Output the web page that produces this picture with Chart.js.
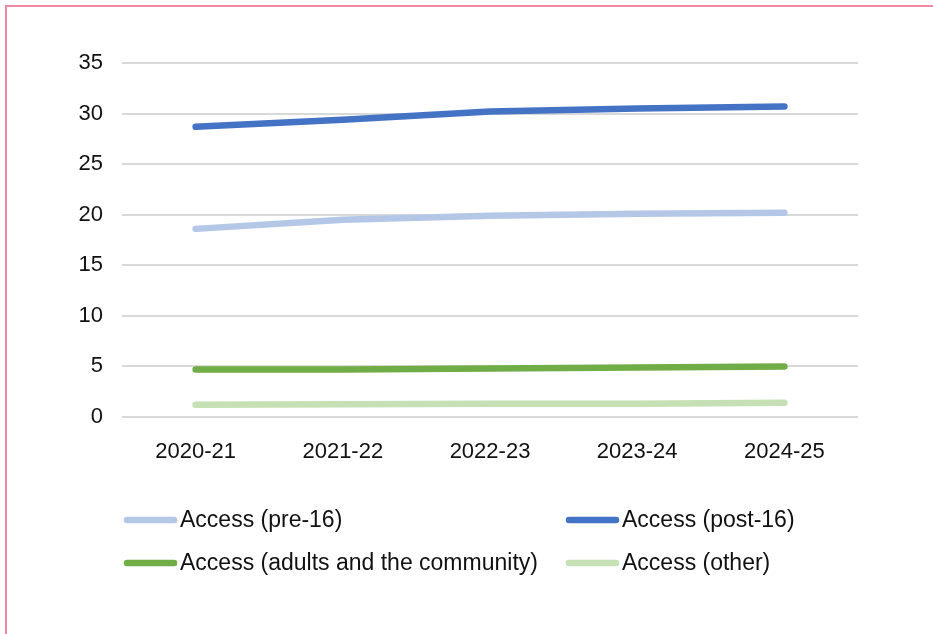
<!DOCTYPE html>
<html>
<head>
<meta charset="utf-8">
<script src="https://cdn.jsdelivr.net/npm/chart.js@4"></script>
<style>
  html, body { margin: 0; padding: 0; background: #fff; }
  #wrap { position: relative; width: 933px; height: 634px; overflow: hidden; }
  #frame {
    position: absolute; left: 5px; top: 5px; width: 1000px; height: 700px;
    border-left: 2px solid #ee8aa0; border-top: 2px solid #ee8aa0;
  }
  canvas { position: absolute; left: 0; top: 0; }
</style>
</head>
<body>
<div id="wrap">
  <div id="frame"></div>
  <canvas id="chart" width="933" height="634"></canvas>
</div>
<script>
// categories and series
const years = ["2020-21", "2021-22", "2022-23", "2023-24", "2024-25"];
const pre16 = [18.6, 19.5, 19.9, 20.1, 20.2];
const post16 = [28.7, 29.4, 30.2, 30.5, 30.7];
const adults = [4.7, 4.7, 4.8, 4.9, 5.0];
const other = [1.2, 1.25, 1.3, 1.3, 1.4];

const FONT = "'Liberation Sans', Arial, sans-serif";
const TEXT = "#111111";

function series(label, data, color) {
  return {
    label, data,
    borderColor: color,
    backgroundColor: color,
    borderWidth: 6.5,
    borderCapStyle: "round",
    borderJoinStyle: "round",
    pointRadius: 0,
    tension: 0
  };
}

// two-column legend under the plot
const legendGrid = {
  id: "legendGrid",
  afterDraw(chart) {
    const c = chart.ctx;
    const cols = [124, 566];
    const rows = [520, 563];
    c.save();
    c.font = "23px " + FONT;
    c.fillStyle = TEXT;
    c.textBaseline = "middle";
    chart.data.datasets.forEach((ds, i) => {
      const x = cols[i % 2], y = rows[Math.floor(i / 2)];
      c.strokeStyle = ds.borderColor;
      c.lineWidth = 6.5;
      c.lineCap = "round";
      c.beginPath();
      c.moveTo(x + 3, y);
      c.lineTo(x + 50, y);
      c.stroke();
      c.fillText(ds.label, x + 56, y + 1);
    });
    c.restore();
  }
};

new Chart(document.getElementById("chart").getContext("2d"), {
  type: "line",
  data: {
    labels: years,
    datasets: [
      series("Access (pre-16)", pre16, "#b4c7e7"),
      series("Access (post-16)", post16, "#4472c4"),
      series("Access (adults and the community)", adults, "#70ad47"),
      series("Access (other)", other, "#c5e0b4")
    ]
  },
  options: {
    responsive: false,
    animation: false,
    layout: { padding: { top: 63, right: 75, left: 0, bottom: 0 } },
    plugins: { legend: { display: false }, tooltip: { enabled: false } },
    scales: {
      x: {
        offset: true,
        grid: { display: false, drawTicks: false },
        border: { display: false },
        ticks: { color: TEXT, font: { family: FONT, size: 22 }, padding: 22, maxRotation: 0 },
        afterFit(s) { s.height = 217; }
      },
      y: {
        min: 0, max: 35,
        grid: { color: "#d9d9d9", lineWidth: 2, drawTicks: false },
        border: { display: false },
        ticks: { stepSize: 5, color: TEXT, font: { family: FONT, size: 22 }, padding: 19 },
        afterFit(s) { s.width = 122; }
      }
    }
  },
  plugins: [legendGrid]
});
</script>
</body>
</html>
